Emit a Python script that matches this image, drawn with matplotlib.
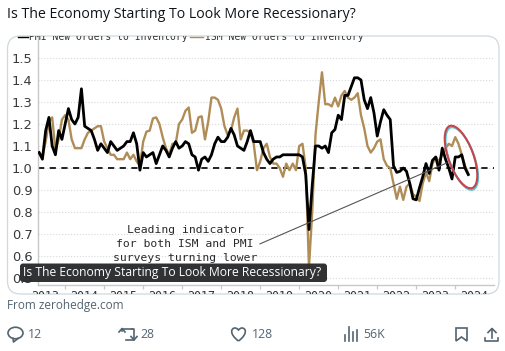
"""Recreate the recessionary new orders to inventory post screenshot."""

import matplotlib

matplotlib.use("Agg")

import matplotlib.pyplot as plt
import numpy as np
from matplotlib.patches import Ellipse, FancyBboxPatch, PathPatch, Polygon
from matplotlib.path import Path
from matplotlib.transforms import Bbox

W, H = 506, 351
MUTED = "#536471"

TITLE = "Is The Economy Starting To Look More Recessionary?"
SOURCE = "From zerohedge.com"
COUNTS = ["12", "28", "128", "56K"]
Y_TICKS = [0.5, 0.6, 0.7, 0.8, 0.9, 1.0, 1.1, 1.2, 1.3, 1.4, 1.5]
YEARS = [2014, 2015, 2016, 2017, 2018, 2019, 2020, 2021, 2022, 2023, 2024]
YEAR_LABELS = [2013, 2014, 2015, 2016, 2017, 2018, 2019, 2020, 2021, 2022, 2023, 2024]
NOTE_LINE_X = [2019.0, 2023.79]
NOTE_LINE_Y = [0.655, 1.023]

# monthly values, first month is spring 2013
START_YEAR = 2013.34
PMI = [
    1.07, 1.04, 1.17, 1.23, 1.10, 1.06, 1.17, 1.13, 1.20, 1.27, 1.22, 1.20, 1.23, 1.36,
    1.19, 1.18, 1.17, 1.13, 1.08, 1.11, 1.09, 1.07, 1.12, 1.10, 1.08, 1.09, 1.10, 1.12,
    1.12, 1.16, 1.11, 0.99, 1.07, 1.05, 1.06, 1.07, 1.02, 1.06, 1.10, 1.08, 1.05, 1.09,
    1.12, 1.09, 1.10, 1.12, 1.11, 1.06, 1.05, 0.99, 1.04, 1.05, 1.03, 1.06, 1.11, 1.14,
    1.12, 1.12, 1.14, 1.18, 1.15, 1.10, 1.09, 1.08, 1.12, 1.17, 1.12, 1.12, 1.12, 1.07,
    1.04, 1.02, 1.04, 1.05, 1.05, 1.06, 1.06, 1.06, 1.06, 1.06, 1.06, 1.05, 0.97, 0.72,
    0.92, 1.10, 1.10, 1.09, 1.10, 1.07, 1.16, 1.175, 1.24, 1.22, 1.33, 1.33, 1.37, 1.41,
    1.41, 1.40, 1.31, 1.27, 1.32, 1.25, 1.145, 1.21, 1.265, 1.24, 1.22, 1.01, 0.98, 0.985,
    1.00, 0.985, 0.93, 0.86, 0.855, 0.91, 0.96, 1.02, 0.975, 1.035, 1.05, 0.99, 1.09, 1.04,
    1.00, 0.95, 1.05, 1.05, 1.06, 1.00, 0.97,
]
ISM = [
    1.07, 1.05, 1.12, 1.21, 1.23, 1.08, 1.13, 1.22, 1.24, 1.22, 1.13, 1.09, 1.09, 1.09,
    1.13, 1.16, 1.17, 1.18, 1.19, 1.19, 1.12, 1.09, 1.06, 1.06, 1.04, 1.04, 1.04, 1.07,
    1.04, 1.06, 1.03, 1.01, 1.12, 1.165, 1.17, 1.225, 1.23, 1.20, 1.14, 1.09, 1.06, 1.11,
    1.11, 1.20, 1.22, 1.26, 1.275, 1.16, 1.17, 1.23, 1.235, 1.13, 1.21, 1.32, 1.32, 1.31,
    1.27, 1.19, 1.15, 1.17, 1.23, 1.27, 1.13, 1.17, 1.17, 1.16, 1.11, 0.99, 1.03, 1.09,
    1.11, 1.05, 1.02, 1.02, 1.00, 0.96, 1.02, 0.99, 1.02, 0.99, 1.10, 1.11, 1.00, 0.55,
    0.80, 1.15, 1.30, 1.435, 1.29, 1.29, 1.28, 1.32, 1.28, 1.33, 1.35, 1.32, 1.31, 1.32,
    1.34, 1.24, 1.18, 1.10, 1.07, 1.09, 1.12, 1.13, 1.04, 1.01, 1.00, 0.93, 0.86, 0.915,
    0.855, 0.915, 0.93, 0.88, 0.87, 0.85, 0.93, 0.98, 0.94, 1.02, 1.05, 1.03, 1.06, 1.09,
    1.11, 1.10, 1.14, 1.11, 1.06, 1.01, 0.975,
]


def pixel_axes(fig, zorder):
    ax = fig.add_axes([0, 0, 1, 1], zorder=zorder)
    ax.set_xlim(0, W)
    ax.set_ylim(H, 0)
    ax.axis("off")
    ax.patch.set_alpha(0)
    return ax


def draw_icons(ax):
    # reply
    ax.add_patch(Ellipse((15.5, 333), 15, 11.5, fc="none", ec=MUTED, lw=1.2))
    ax.plot([13, 13.5, 18], [338.5, 342, 338.5], color=MUTED, lw=1.2)
    # repost
    ax.plot([122, 122, 132], [331, 329, 329], color=MUTED, lw=1.2)
    ax.plot([119, 122, 125], [332, 328.5, 332], color=MUTED, lw=1.2)
    ax.plot([132, 134, 134, 126], [329, 329, 339.5, 339.5], color=MUTED, lw=1.2)
    ax.plot([131, 134, 137], [336.5, 340, 336.5], color=MUTED, lw=1.2)
    # like
    ax.add_patch(PathPatch(Path(
        [(238.5, 341), (229, 334), (231, 328), (235, 328), (237, 328), (238.5, 330), (238.5, 330),
         (238.5, 330), (240, 328), (242, 328), (246, 328), (248, 334), (238.5, 341)],
        [Path.MOVETO] + [Path.CURVE4] * 12,
    ), fc="none", ec=MUTED, lw=1.2))
    # views
    for px, top in [(345, 335), (349, 327), (353, 332), (357, 330)]:
        ax.plot([px, px], [341, top], color=MUTED, lw=1.2)
    # bookmark
    ax.add_patch(Polygon([(456, 328), (467, 328), (467, 341), (461.5, 337), (456, 341)],
                         closed=True, fc="none", ec=MUTED, lw=1.2))
    # share
    ax.plot([492, 492], [329, 338], color=MUTED, lw=1.2)
    ax.plot([488, 492, 496], [332.5, 328.5, 332.5], color=MUTED, lw=1.2)
    ax.plot([485, 485, 498, 498], [338, 341, 341, 338], color=MUTED, lw=1.2)


def main():
    plt.rcParams["font.family"] = ["Open Sans", "DejaVu Sans"]
    fig = plt.figure(figsize=(W / 100, H / 100), dpi=100, facecolor="white")
    # Agg ignores clip paths on text, so text is cut with a plain box at the card edges
    card_box = Bbox([[0, H - 294], [W, H - 36]])

    back = pixel_axes(fig, 0)
    card = FancyBboxPatch((7.5, 36), 491.5, 258, boxstyle="round,pad=0,rounding_size=13",
                          fc="white", ec="#cfd9de", lw=0.9)
    back.add_patch(card)
    back.text(7, 15, TITLE, fontsize=10.15, color="#0f1419", va="center")
    back.text(7, 305.5, SOURCE, fontsize=8.5, color=MUTED, va="center")
    for px, label in zip([28, 140, 252, 363], COUNTS):
        back.text(px, 335, label, fontsize=8.8, color=MUTED, va="center")
    draw_icons(back)

    ax = fig.add_axes([38 / W, 1 - 285 / H, (494 - 38) / W, (285 - 36) / H], zorder=1)
    ax.patch.set_alpha(0)
    ax.set_xlim(2013.31, 2025.0)
    ax.set_ylim(0.468, 1.6)
    months = START_YEAR + np.arange(len(PMI)) / 12

    ax.set_yticks(Y_TICKS, [f"{v:.1f}" for v in Y_TICKS])
    ax.set_xticks(YEARS, [""] * len(YEARS))
    ax.tick_params(axis="y", length=0, pad=4, labelsize=9.4, labelcolor="#3a3a3a")
    ax.tick_params(axis="x", length=3, color="#c8c8c8", width=0.9)
    for label in ax.get_yticklabels():
        label.set_family("DejaVu Sans")
    ax.grid(axis="y", color="#d8d8d8", lw=0.8, ls=":")
    ax.set_axisbelow(True)
    for side in ["top", "right"]:
        ax.spines[side].set_visible(False)
    for side in ["left", "bottom"]:
        ax.spines[side].set_color("#c8c8c8")
        ax.spines[side].set_linewidth(1.0)

    ax.axhline(1.0, color="#222222", lw=1.4, ls=(0, (3.2, 2.8)), zorder=2)
    ax.plot(months, ISM, color="#b08d57", lw=1.7, zorder=3)
    ax.plot(months, PMI, color="black", lw=2.0, zorder=4)
    ax.plot(NOTE_LINE_X, NOTE_LINE_Y, color="#555555", lw=0.8, zorder=5)

    # labels sit between the yearly ticks and are cut off by the card edge
    for year in YEAR_LABELS:
        txt = ax.text(year + 0.5, 0.443, str(year), ha="center", va="top", fontsize=8.4,
                      color="#333333", family="DejaVu Sans Mono")
        txt.set_clip_on(True)
        txt.set_clip_box(card_box)

    front = pixel_axes(fig, 2)
    for px, py, label in [(29, 40, "PMI New Orders to Inventory"),
                          (205, 40, "ISM New Orders to Inventory")]:
        txt = front.text(px, py, label, fontsize=7.0, color="#333333", va="baseline",
                         family="DejaVu Sans Mono")
        txt.set_clip_on(True)
        txt.set_clip_box(card_box)
    front.plot([18, 28], [37, 37], color="black", lw=1.0)
    front.plot([190, 203], [37, 37], color="#b08d57", lw=1.0)
    for py, label in [(230, "Leading indicator"), (244, "for both ISM and PMI"),
                      (258, "surveys turning lower")]:
        front.text(185, py, label, fontsize=8.2, color="#2a2a2a", ha="center", va="center",
                   family="DejaVu Sans Mono")

    front.add_patch(Ellipse((461.8, 158.5), 66, 25, angle=70, fc="none", ec="#4fc9d6", lw=1.5))
    front.add_patch(Ellipse((461, 157), 66, 25, angle=70, fc="none", ec="#c8444a", lw=1.5))

    front.add_patch(FancyBboxPatch((20, 263.5), 307, 18.5, boxstyle="round,pad=0,rounding_size=3",
                                   fc="#2a2b2d", ec="none", alpha=0.97))
    front.text(23, 272.5, TITLE, fontsize=8.75, color="white", va="center")

    fig.savefig("out.png", dpi=100)


if __name__ == "__main__":
    main()
